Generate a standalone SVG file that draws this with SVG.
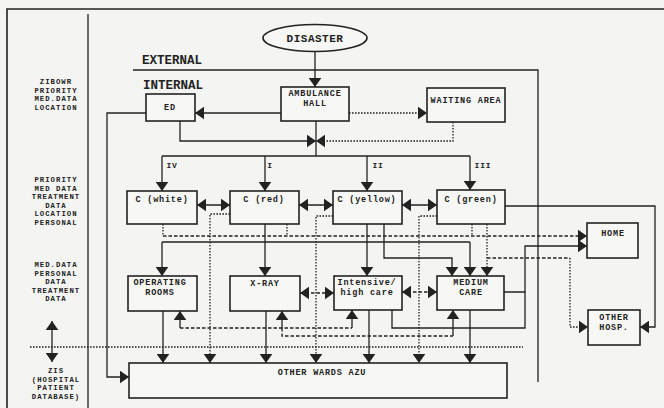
<svg xmlns="http://www.w3.org/2000/svg" width="664" height="408" viewBox="0 0 664 408">
<style>
.bg{fill:#f4f4f2}
.box{fill:#f7f7f5;stroke:#222;stroke-width:1.6}
.ln{fill:none;stroke:#222;stroke-width:1.3}
.dot{stroke-dasharray:1.6 1.4}
.dash{stroke-dasharray:3.5 2}
.frame{fill:none;stroke:#222;stroke-width:1.6}
text{font-family:"Liberation Mono","DejaVu Sans Mono",monospace;font-weight:bold;fill:#222;font-size:8.5px;letter-spacing:0.8px;text-anchor:middle}
.big{font-size:12.5px;letter-spacing:0;text-anchor:start}
.leg{font-size:7.3px;letter-spacing:1px}
</style>
<defs>
<marker id="ah" viewBox="0 0 10 14" refX="10" refY="7" markerWidth="9" markerHeight="13" markerUnits="userSpaceOnUse" orient="auto-start-reverse">
<path d="M0,0L10,7L0,14z" fill="#222"/>
</marker>
</defs>
<rect class="bg" x="0" y="0" width="664" height="408"/>

<g id="frame">
<path class="frame" d="M7,408V9H664"/>
<path class="ln" d="M88,14V408"/>
<path class="ln" d="M133,70H538V382"/>
<path class="ln dot" d="M30,347H523"/>
<text class="big" x="142" y="64">EXTERNAL</text>
<text class="big" x="143" y="89">INTERNAL</text>
</g>

<g id="legend">
<text class="leg" x="56" y="84">ZIBOWR</text>
<text class="leg" x="56" y="92.5">PRIORITY</text>
<text class="leg" x="56" y="101">MED.DATA</text>
<text class="leg" x="56" y="109.5">LOCATION</text>
<text class="leg" x="56" y="182">PRIORITY</text>
<text class="leg" x="56" y="190.5">MED DATA</text>
<text class="leg" x="56" y="199">TREATMENT</text>
<text class="leg" x="56" y="207.5">DATA</text>
<text class="leg" x="56" y="216">LOCATION</text>
<text class="leg" x="56" y="224.5">PERSONAL</text>
<text class="leg" x="56" y="267">MED.DATA</text>
<text class="leg" x="56" y="275.5">PERSONAL</text>
<text class="leg" x="56" y="284">DATA</text>
<text class="leg" x="56" y="292.5">TREATMENT</text>
<text class="leg" x="56" y="301">DATA</text>
<text class="leg" x="56" y="373">ZIS</text>
<text class="leg" x="56" y="381.5">(HOSPITAL</text>
<text class="leg" x="56" y="390">PATIENT</text>
<text class="leg" x="56" y="398.5">DATABASE)</text>
</g>

<g id="connectors">
<path class="ln" d="M52,321V362" marker-start="url(#ah)" marker-end="url(#ah)"/>
<path class="ln" d="M315,52V87" marker-end="url(#ah)"/>
<path class="ln" d="M281,113H195" marker-end="url(#ah)"/>
<path class="ln dot" d="M349,113H427" marker-end="url(#ah)"/>
<path class="ln" d="M180,121V141H316" marker-end="url(#ah)"/>
<path class="ln dot" d="M453,122V141H316" marker-end="url(#ah)"/>
<path class="ln" d="M316,121V156"/>
<path class="ln" d="M162,156H470"/>
<path class="ln" d="M162,156V191" marker-end="url(#ah)"/>
<path class="ln" d="M265,156V191" marker-end="url(#ah)"/>
<path class="ln" d="M367,156V191" marker-end="url(#ah)"/>
<path class="ln" d="M470,156V190" marker-end="url(#ah)"/>
<text x="172" y="168" style="font-size:8px">IV</text>
<text x="270" y="168" style="font-size:8px">I</text>
<text x="378" y="168" style="font-size:8px">II</text>
<text x="483" y="168" style="font-size:8px">III</text>
<path class="ln" d="M197,205H230" marker-start="url(#ah)" marker-end="url(#ah)"/>
<path class="ln" d="M299,205H333" marker-start="url(#ah)" marker-end="url(#ah)"/>
<path class="ln" d="M402,205H437" marker-start="url(#ah)" marker-end="url(#ah)"/>
<path class="ln" d="M146,113H107V377H129" marker-end="url(#ah)"/>
<path class="ln dot" d="M163,224V236M287,224V236M472,224V236"/>
<path class="ln dash" d="M163,236H587" marker-end="url(#ah)"/>
<path class="ln" d="M162,242H470"/>
<path class="ln" d="M162,242V276" marker-end="url(#ah)"/>
<path class="ln" d="M470,242V276" marker-end="url(#ah)"/>
<path class="ln" d="M265,224V276" marker-end="url(#ah)"/>
<path class="ln" d="M367,224V276" marker-end="url(#ah)"/>
<path class="ln" d="M384,224V258H452V276" marker-end="url(#ah)"/>
<path class="ln dot" d="M487,224V276" marker-end="url(#ah)"/>
<path class="ln dash" d="M487,258H570"/>
<path class="ln dot" d="M570,258V327H588" marker-end="url(#ah)"/>
<path class="ln" d="M505,206H655V327H640" marker-end="url(#ah)"/>
<path class="ln" d="M504,292H525V246H587" marker-end="url(#ah)"/>
<path class="ln" d="M392,310V328H525V292"/>
<path class="ln dash" d="M300,293H334" marker-start="url(#ah)" marker-end="url(#ah)"/>
<path class="ln dash" d="M402,292H437" marker-start="url(#ah)" marker-end="url(#ah)"/>
<path class="ln dot" d="M230,214H210V363" marker-end="url(#ah)"/>
<path class="ln dot" d="M333,216H316V363" marker-end="url(#ah)"/>
<path class="ln dot" d="M437,216H419V363" marker-end="url(#ah)"/>
<path class="ln" d="M163,311V363" marker-end="url(#ah)"/>
<path class="ln" d="M266,311V363" marker-end="url(#ah)"/>
<path class="ln" d="M369,310V363" marker-end="url(#ah)"/>
<path class="ln" d="M470,310V363" marker-end="url(#ah)"/>
<path class="ln dash" d="M180,328H352"/>
<path class="ln" d="M180,328V311" marker-end="url(#ah)"/>
<path class="ln" d="M282,328V311" marker-end="url(#ah)"/>
<path class="ln" d="M352,328V310" marker-end="url(#ah)"/>
<path class="ln dash" d="M282,328V336H453"/>
<path class="ln" d="M453,336V310" marker-end="url(#ah)"/>
</g>

<g id="disaster">
<ellipse cx="315" cy="38" rx="52" ry="13.5" class="box"/>
<text x="315" y="42" style="font-size:11px;letter-spacing:0.5px">DISASTER</text>
</g>
<g id="ambulance-hall">
<rect class="box" x="281" y="87" width="68" height="34"/>
<text x="315" y="96">AMBULANCE</text>
<text x="315" y="106">HALL</text>
</g>
<g id="ed">
<rect class="box" x="146" y="94" width="49" height="27"/>
<text x="170" y="110">ED</text>
</g>
<g id="waiting-area">
<rect class="box" x="427" y="88" width="78" height="34"/>
<text x="466" y="103">WAITING AREA</text>
</g>
<g id="c-white">
<rect class="box" x="127" y="191" width="70" height="33"/>
<text x="162" y="202">C (white)</text>
</g>
<g id="c-red">
<rect class="box" x="230" y="191" width="69" height="33"/>
<text x="264" y="202">C (red)</text>
</g>
<g id="c-yellow">
<rect class="box" x="333" y="191" width="69" height="33"/>
<text x="367" y="202">C (yellow)</text>
</g>
<g id="c-green">
<rect class="box" x="437" y="190" width="68" height="34"/>
<text x="471" y="202">C (green)</text>
</g>
<g id="operating-rooms">
<rect class="box" x="128" y="276" width="69" height="35"/>
<text x="160" y="285">OPERATING</text>
<text x="160" y="295">ROOMS</text>
</g>
<g id="x-ray">
<rect class="box" x="230" y="276" width="70" height="35"/>
<text x="265" y="286">X-RAY</text>
</g>
<g id="intensive">
<rect class="box" x="334" y="276" width="68" height="34"/>
<text x="367" y="285">Intensive/</text>
<text x="367" y="295">high care</text>
</g>
<g id="medium-care">
<rect class="box" x="437" y="276" width="67" height="34"/>
<text x="471" y="285">MEDIUM</text>
<text x="471" y="295">CARE</text>
</g>
<g id="home">
<rect class="box" x="587" y="223" width="51" height="35"/>
<text x="613" y="236">HOME</text>
</g>
<g id="other-hosp">
<rect class="box" x="588" y="310" width="52" height="35"/>
<text x="614" y="320">OTHER</text>
<text x="614" y="330">HOSP.</text>
</g>
<g id="other-wards">
<rect class="box" x="129" y="363" width="378" height="35"/>
<text x="322" y="375">OTHER WARDS AZU</text>
</g>
</svg>
